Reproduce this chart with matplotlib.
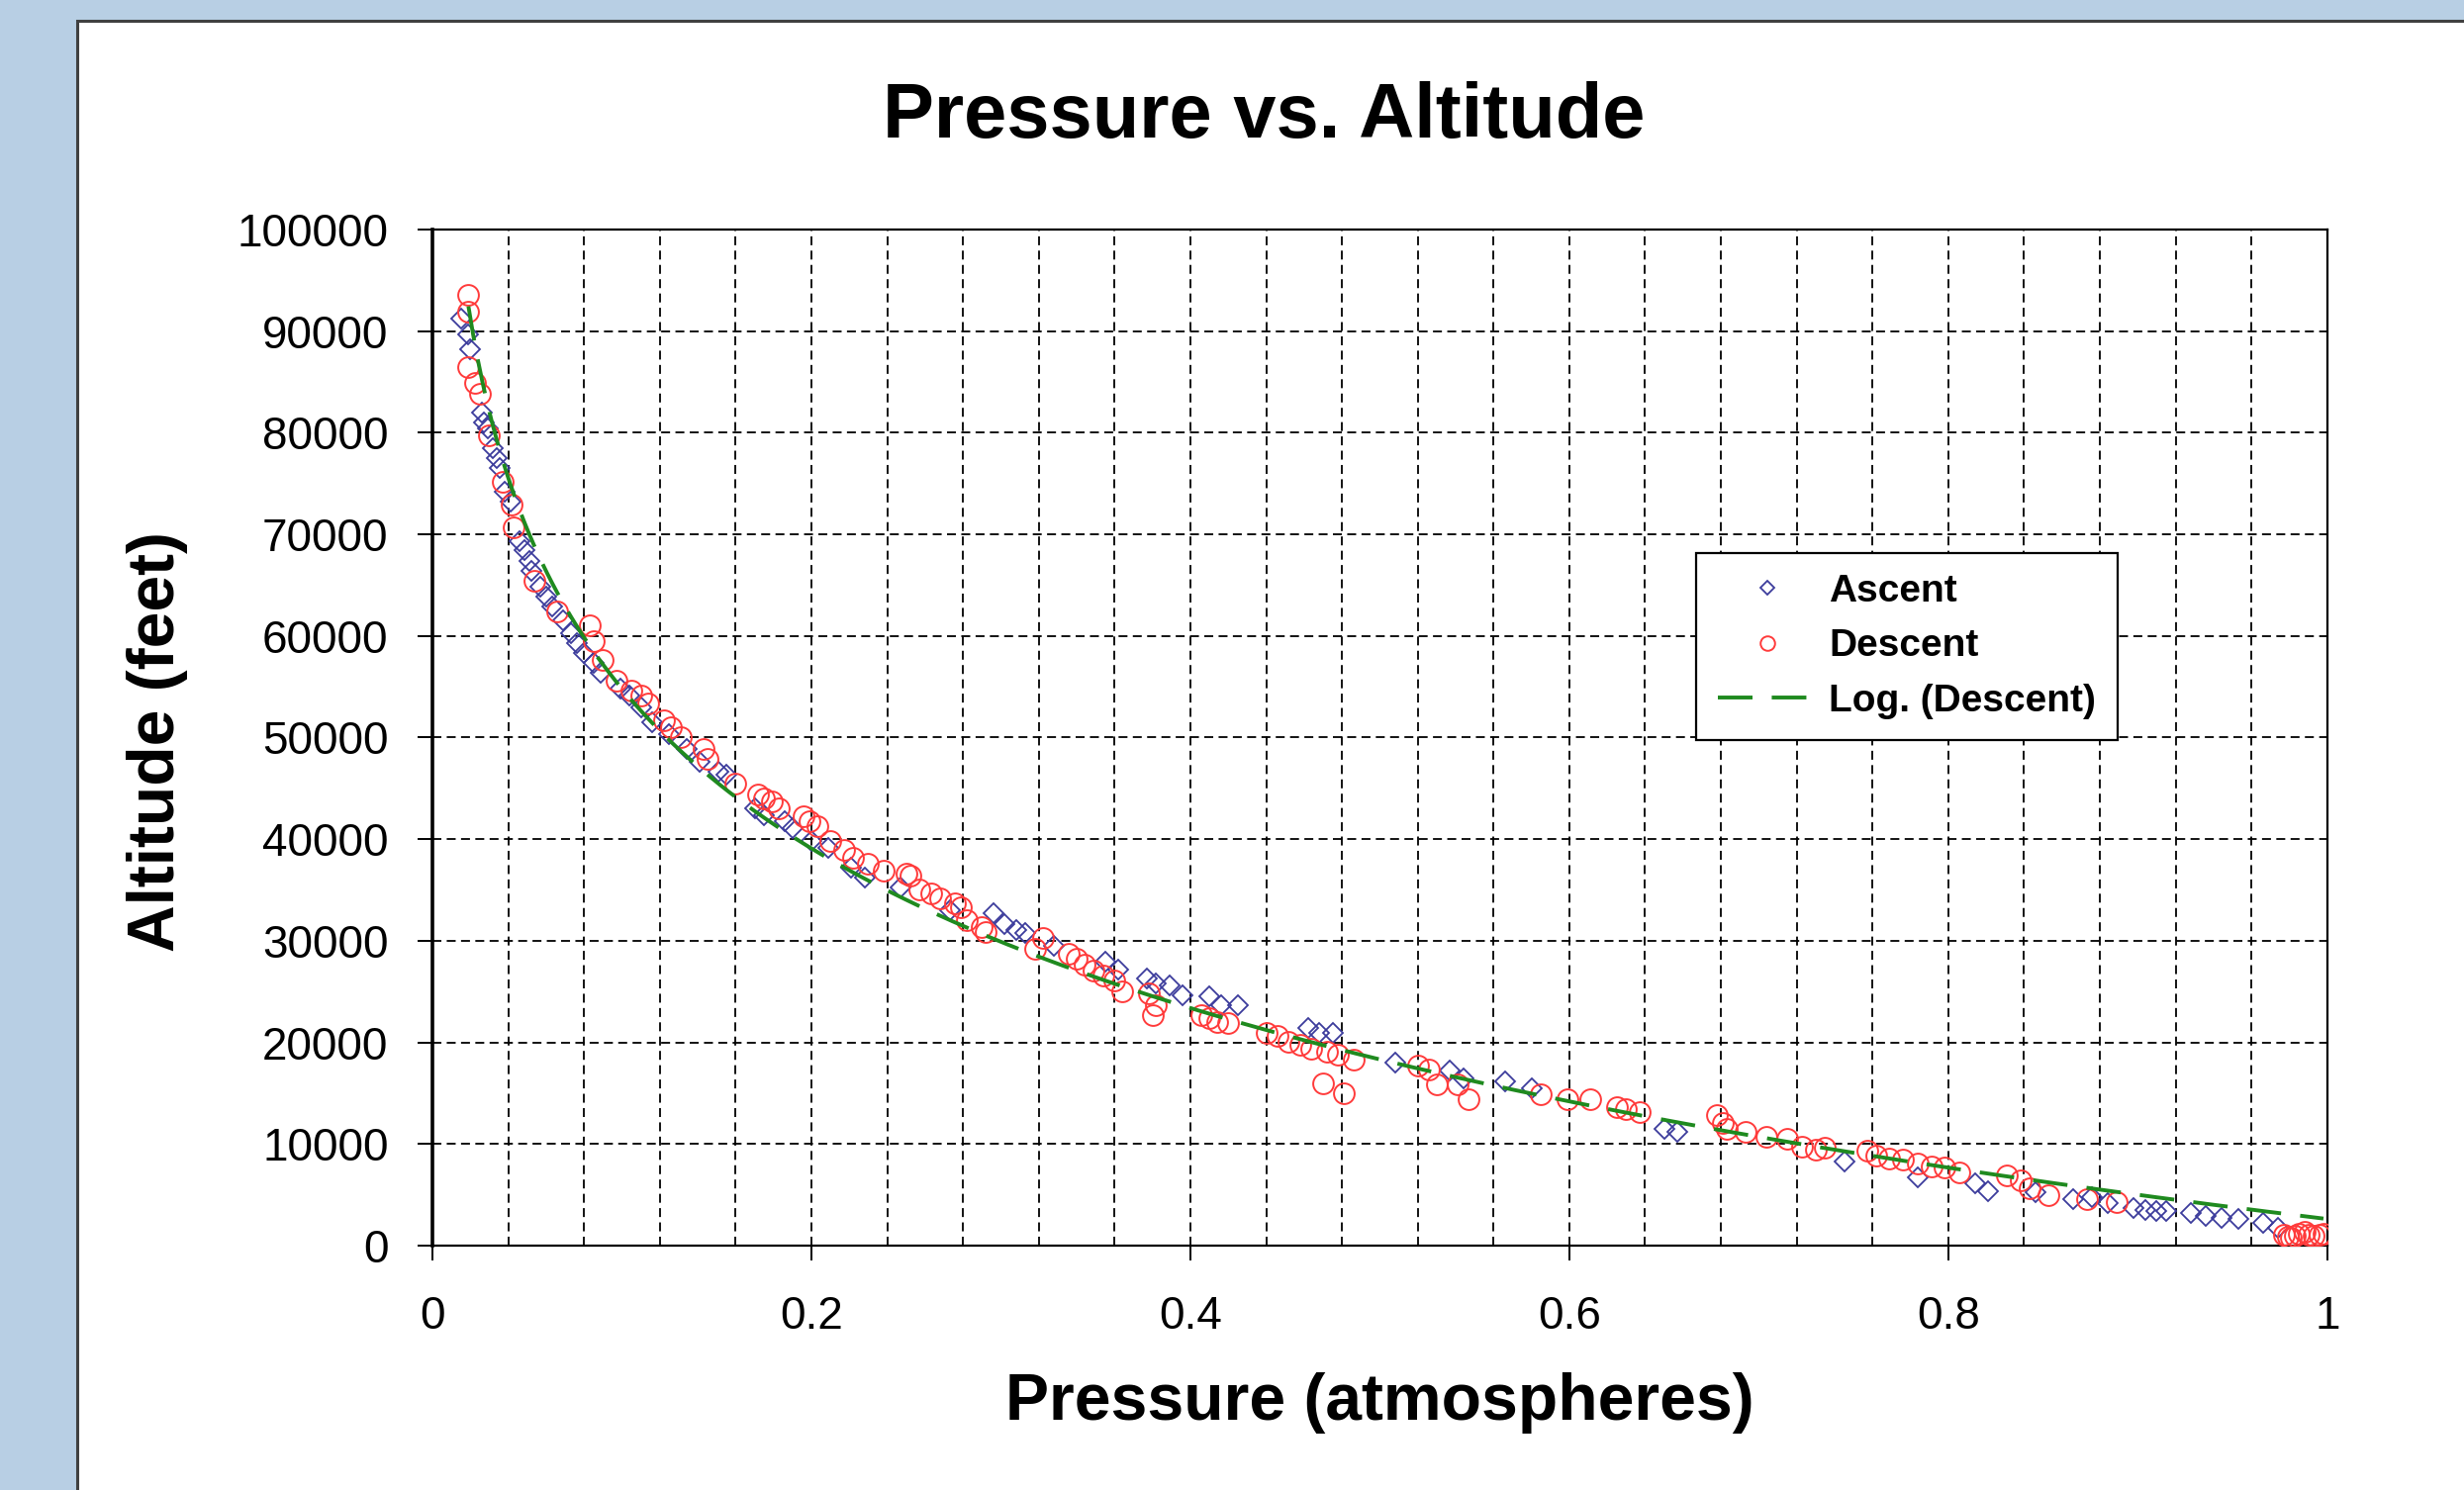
import numpy as np
import matplotlib
matplotlib.use("Agg")
import matplotlib.pyplot as plt
from matplotlib.patches import Rectangle
from matplotlib.ticker import MultipleLocator, FuncFormatter

# ==============================================================================
# DATOS
# ==============================================================================
ascent_p = [0.015, 0.019, 0.020, 0.026, 0.027, 0.029, 0.032, 0.034, 0.0355, 0.038,
            0.041, 0.046, 0.0485, 0.051, 0.052, 0.057, 0.060, 0.063, 0.069, 0.073,
            0.076, 0.080, 0.085, 0.089, 0.099, 0.104, 0.110, 0.116, 0.125, 0.134,
            0.141, 0.151, 0.155, 0.170, 0.175, 0.186, 0.190, 0.200, 0.209, 0.221,
            0.228, 0.247, 0.273, 0.296, 0.302, 0.308, 0.313, 0.328, 0.355, 0.362,
            0.377, 0.382, 0.389, 0.396, 0.410, 0.416, 0.425, 0.462, 0.468, 0.475,
            0.508, 0.537, 0.544, 0.566, 0.580, 0.650, 0.657, 0.745, 0.784, 0.814,
            0.821, 0.846, 0.866, 0.876, 0.884, 0.898, 0.904, 0.910, 0.915, 0.928,
            0.936, 0.944, 0.953, 0.966, 0.974]
ascent_alt = [91200, 89700, 88200, 82000, 81000, 80400, 78500, 77500, 76500, 74200,
              73200, 69300, 68400, 67400, 66400, 64800, 63900, 62900, 61500, 60300,
              59300, 58300, 57300, 56400, 54800, 54100, 53000, 51500, 50300, 48900,
              47600, 46600, 46300, 43000, 42400, 41800, 41100, 39800, 39100, 37200,
              36200, 35200, 33000, 32700, 31600, 31100, 30800, 29500, 27900, 27200,
              26300, 25800, 25600, 24600, 24500, 23700, 23700, 21400, 20900, 20900,
              18000, 17200, 16500, 16200, 15500, 11500, 11200, 8300, 6700, 6100,
              5400, 5300, 4600, 4800, 4200, 3700, 3500, 3400, 3400, 3200,
              2900, 2700, 2600, 2200, 1800]

descent_p = [0.019, 0.019, 0.019, 0.0225, 0.025, 0.030, 0.037, 0.042, 0.043, 0.054,
             0.066, 0.083, 0.085, 0.090, 0.097, 0.105, 0.110, 0.114, 0.122, 0.126,
             0.131, 0.143, 0.145, 0.160, 0.172, 0.175, 0.179, 0.183, 0.196, 0.199,
             0.203, 0.210, 0.217, 0.222, 0.230, 0.238, 0.250, 0.252, 0.257, 0.263,
             0.268, 0.276, 0.279, 0.282, 0.290, 0.292, 0.318, 0.322, 0.336, 0.340,
             0.344, 0.349, 0.354, 0.360, 0.364, 0.378, 0.382, 0.380, 0.406, 0.410,
             0.414, 0.420, 0.440, 0.446, 0.452, 0.458, 0.464, 0.472, 0.478, 0.486,
             0.470, 0.481, 0.520, 0.526, 0.530, 0.541, 0.547, 0.585, 0.599, 0.611,
             0.625, 0.630, 0.637, 0.678, 0.681, 0.683, 0.693, 0.704, 0.715, 0.723,
             0.730, 0.735, 0.757, 0.762, 0.769, 0.776, 0.784, 0.791, 0.798, 0.806,
             0.831, 0.838, 0.843, 0.853, 0.873, 0.889,
             # grupo superpuesto en tierra (aparece relleno)
             0.977, 0.979, 0.981, 0.983, 0.985, 0.988, 0.990, 0.993, 0.996, 0.998]
descent_alt = [93600, 91900, 86500, 84900, 83800, 79700, 75200, 72900, 70700, 65400,
               62400, 61000, 59500, 57600, 55600, 54600, 54100, 53400, 51700, 51000,
               50000, 48900, 47900, 45500, 44400, 44000, 43700, 43000, 42300, 41800,
               41300, 39800, 38900, 38200, 37600, 36900, 36600, 36400, 35100, 34700,
               34200, 33700, 33300, 32000, 31400, 30900, 29200, 30300, 28700, 28200,
               27700, 27100, 26600, 26100, 25000, 24800, 23700, 22700, 22700, 22400,
               22000, 21900, 20900, 20600, 20100, 19800, 19400, 19100, 18800, 18300,
               16000, 15000, 17700, 17300, 15900, 15900, 14400, 14900, 14400, 14400,
               13600, 13400, 13100, 12900, 12100, 11500, 11200, 10700, 10500, 9700,
               9400, 9600, 9300, 8900, 8600, 8500, 8100, 7800, 7700, 7200,
               6900, 6400, 5600, 5000, 4600, 4300,
               1100, 900, 800, 1000, 1200, 1400, 1100, 1000, 1100, 1200]

x_ticks = [0, 0.2, 0.4, 0.6, 0.8, 1.0]
y_ticks = list(range(0, 100001, 10000))

# ==============================================================================
# CONFIGURACION
# ==============================================================================
OUT_PATH = "out.png"
BG_BLUE = "#b8cfe4"
FONT = ["Liberation Sans", "DejaVu Sans"]


def main():
    plt.rcParams["font.family"] = FONT

    fig = plt.figure(figsize=(24.9, 15.06), dpi=100, facecolor=BG_BLUE)

    # panel blanco con borde (detras de todo)
    fig.patches.append(Rectangle((0.0313, -0.01), 0.975, 0.996, transform=fig.transFigure,
                                 facecolor="white", edgecolor="#404040", linewidth=2.2,
                                 zorder=-10))

    ax = fig.add_axes([0.1755, 0.164, 0.769, 0.682])
    ax.set_zorder(5)
    ax.set_facecolor("white")

    # ajuste logaritmico sobre los datos de descenso (como la linea de tendencia de Excel)
    dp = np.array(descent_p)
    da = np.array(descent_alt)
    a, b = np.polyfit(np.log(dp), da, 1)
    xt = np.linspace(dp.min(), dp.max(), 400)
    yt = a * np.log(xt) + b

    ax.plot(ascent_p, ascent_alt, linestyle="none", marker="D", markersize=10.5,
            markerfacecolor="none", markeredgecolor="#3c3c9c", markeredgewidth=1.3,
            label="Ascent", zorder=3)
    ax.plot(descent_p, descent_alt, linestyle="none", marker="o", markersize=15,
            markerfacecolor="none", markeredgecolor="#ff3b3b", markeredgewidth=1.4,
            label="Descent", zorder=4)
    ax.plot(xt, yt, color="#1f8a1f", linewidth=2.8, dashes=(9, 5),
            label="Log. (Descent)", zorder=5)

    ax.set_xlim(0, 1)
    ax.set_ylim(0, 100000)
    ax.set_xticks(x_ticks)
    ax.set_yticks(y_ticks)
    ax.xaxis.set_minor_locator(MultipleLocator(0.04))
    ax.xaxis.set_major_formatter(FuncFormatter(lambda v, pos: f"{v:g}"))
    ax.yaxis.set_major_formatter(FuncFormatter(lambda v, pos: f"{int(v)}"))

    ax.tick_params(axis="both", which="major", labelsize=33, direction="out",
                   length=11, width=1.4, colors="black")
    ax.tick_params(axis="x", which="major", pad=25)
    ax.tick_params(axis="y", which="major", pad=21)
    ax.tick_params(axis="x", which="minor", length=0)

    ax.grid(True, which="both", axis="x", color="black", linewidth=1.3,
            linestyle=(0, (5, 3)))
    ax.grid(True, which="major", axis="y", color="black", linewidth=1.3,
            linestyle=(0, (5, 3)))
    ax.set_axisbelow(True)

    for side in ["top", "right", "bottom"]:
        ax.spines[side].set_linewidth(1.6)
        ax.spines[side].set_color("black")
    ax.spines["left"].set_linewidth(2.6)

    ax.set_xlabel("Pressure (atmospheres)", fontsize=47.5, fontweight="bold")
    ax.set_ylabel("Altitude (feet)", fontsize=47.5, fontweight="bold")
    ax.xaxis.set_label_coords(0.5, -0.155)
    ax.xaxis.label.set_va("center")
    ax.yaxis.set_label_coords(-0.145, 0.496)
    ax.yaxis.label.set_va("center")

    fig.text(0.513, 0.921, "Pressure vs. Altitude", fontsize=56, fontweight="bold",
             ha="center", va="center")

    leg = ax.legend(loc="upper left", bbox_to_anchor=(0.667, 0.682), borderaxespad=0,
                    numpoints=1, markerscale=0.7, handlelength=2.6,
                    handletextpad=0.3, labelspacing=0.5, borderpad=0.55,
                    fancybox=False, prop={"size": 28, "weight": "bold"})
    frame = leg.get_frame()
    frame.set_edgecolor("black")
    frame.set_linewidth(1.6)
    frame.set_alpha(1)

    fig.savefig(OUT_PATH, dpi=100, facecolor=fig.get_facecolor())
    plt.close(fig)


if __name__ == "__main__":
    main()
